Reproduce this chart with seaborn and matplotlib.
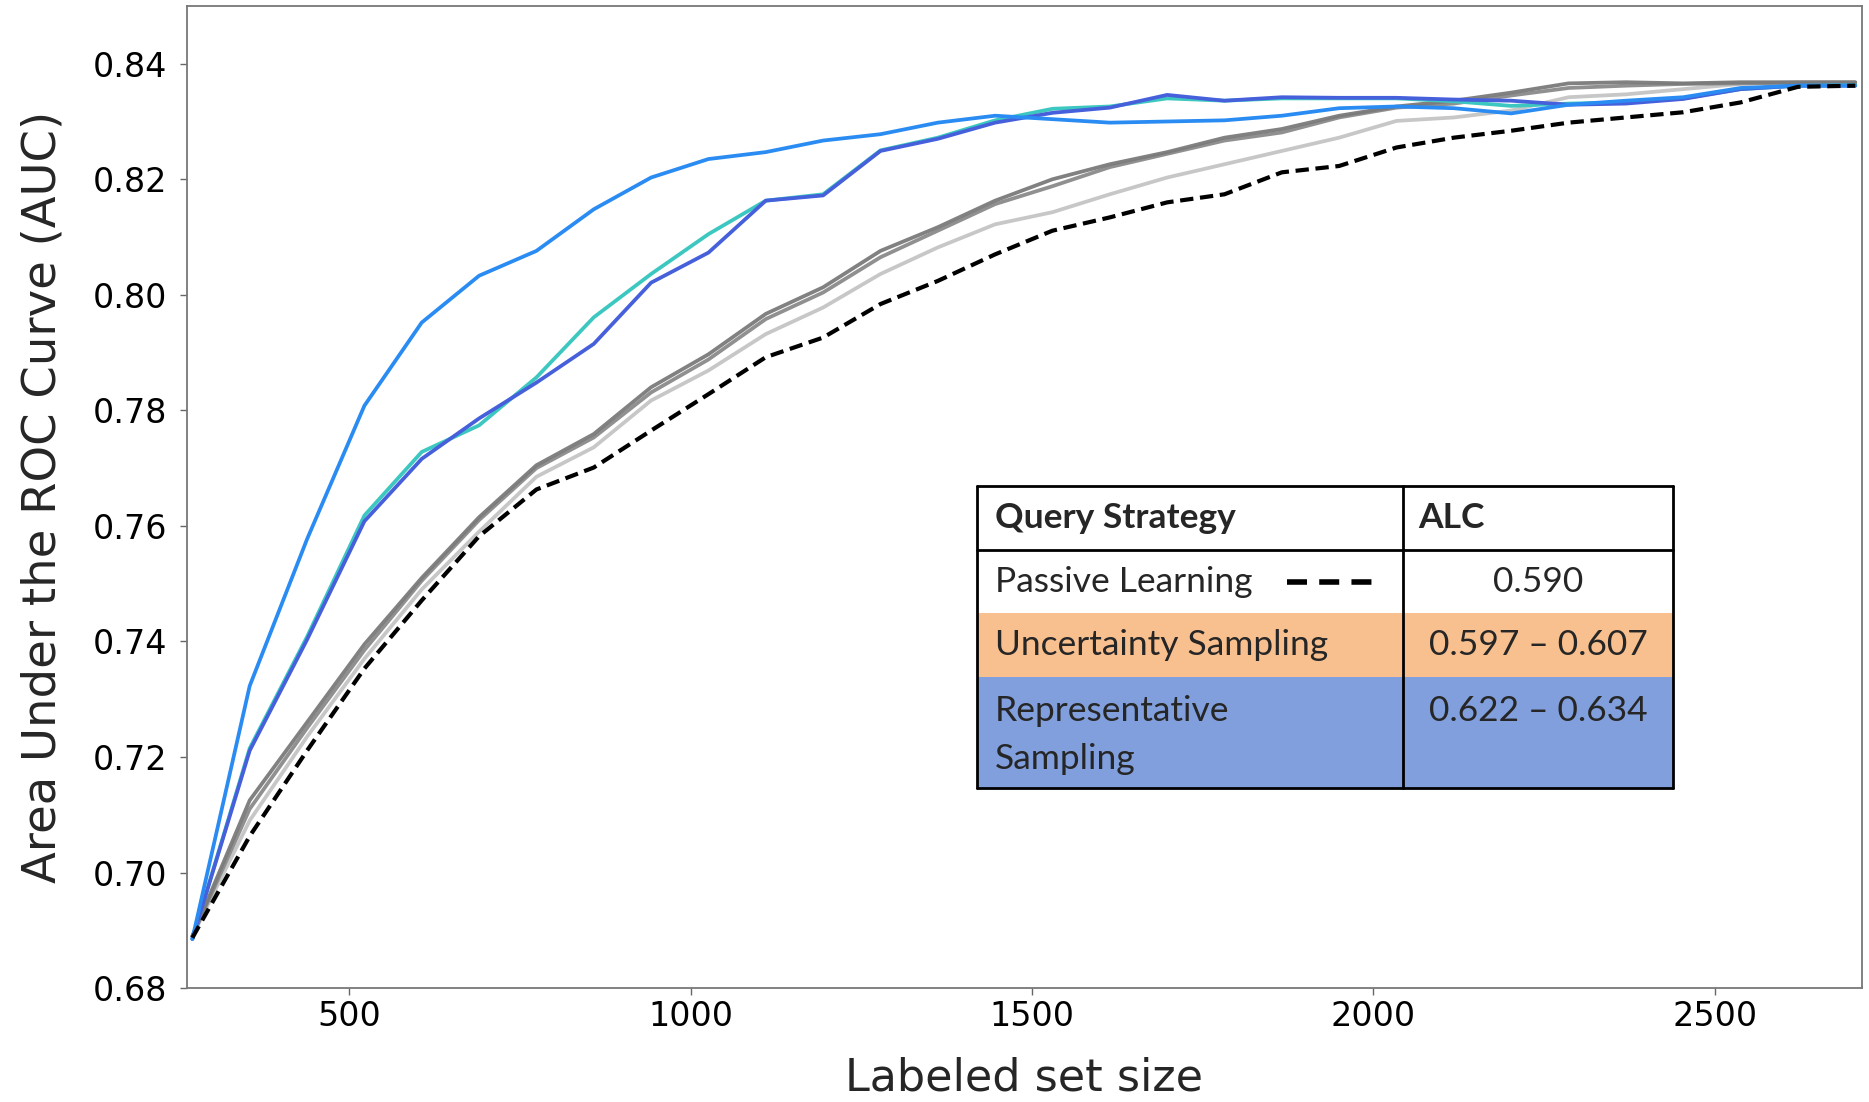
import numpy as np
import pandas as pd
import seaborn as sns
import matplotlib.pyplot as plt
from matplotlib.patches import Rectangle
from matplotlib.lines import Line2D

# labeled set sizes (x)
labeled = [270, 354, 438, 522, 606, 690, 774, 858, 942, 1026,
           1110, 1194, 1278, 1362, 1446, 1530, 1614, 1698, 1782, 1866,
           1950, 2034, 2118, 2202, 2286, 2370, 2454, 2538, 2622, 2706]

# AUC curves
passive = [0.6887, 0.7063, 0.7211, 0.7353, 0.7471, 0.7582, 0.7663, 0.7701, 0.7765, 0.7828,
           0.7892, 0.7926, 0.7984, 0.8024, 0.8070, 0.8111, 0.8134, 0.8160, 0.8174, 0.8212,
           0.8223, 0.8255, 0.8272, 0.8284, 0.8298, 0.8307, 0.8316, 0.8333, 0.8360, 0.8362]

unc_dark1 = [0.6890, 0.7125, 0.7260, 0.7395, 0.7510, 0.7615, 0.7705, 0.7759, 0.7840, 0.7897,
             0.7967, 0.8013, 0.8076, 0.8117, 0.8163, 0.8200, 0.8226, 0.8247, 0.8272, 0.8287,
             0.8310, 0.8326, 0.8336, 0.8350, 0.8366, 0.8368, 0.8366, 0.8368, 0.8368, 0.8368]
unc_dark2 = [0.6890, 0.7110, 0.7250, 0.7385, 0.7505, 0.7610, 0.7700, 0.7753, 0.7831, 0.7888,
             0.7958, 0.8004, 0.8065, 0.8111, 0.8157, 0.8188, 0.8221, 0.8244, 0.8267, 0.8281,
             0.8307, 0.8324, 0.8331, 0.8345, 0.8358, 0.8362, 0.8365, 0.8366, 0.8367, 0.8367]
unc_light = [0.6890, 0.7090, 0.7235, 0.7370, 0.7490, 0.7590, 0.7685, 0.7736, 0.7817, 0.7869,
             0.7932, 0.7978, 0.8036, 0.8082, 0.8122, 0.8143, 0.8174, 0.8203, 0.8226, 0.8249,
             0.8272, 0.8301, 0.8307, 0.8319, 0.8342, 0.8347, 0.8356, 0.8365, 0.8368, 0.8368]

rep_dodger = [0.6885, 0.7323, 0.7577, 0.7808, 0.7952, 0.8033, 0.8076, 0.8148, 0.8203, 0.8235,
              0.8247, 0.8267, 0.8278, 0.8298, 0.8310, 0.8304, 0.8298, 0.8300, 0.8302, 0.8310,
              0.8323, 0.8326, 0.8323, 0.8314, 0.8329, 0.8336, 0.8342, 0.8358, 0.8362, 0.8362]
rep_teal = [0.6885, 0.7215, 0.7408, 0.7618, 0.7728, 0.7774, 0.7857, 0.7961, 0.8036, 0.8105,
            0.8163, 0.8174, 0.8250, 0.8272, 0.8302, 0.8322, 0.8326, 0.8340, 0.8336, 0.8340,
            0.8340, 0.8340, 0.8335, 0.8327, 0.8331, 0.8333, 0.8340, 0.8356, 0.8362, 0.8363]
rep_royal = [0.6885, 0.7211, 0.7403, 0.7608, 0.7716, 0.7786, 0.7848, 0.7915, 0.8021, 0.8073,
             0.8163, 0.8172, 0.8249, 0.8270, 0.8298, 0.8315, 0.8324, 0.8346, 0.8336, 0.8342,
             0.8341, 0.8341, 0.8338, 0.8336, 0.8329, 0.8331, 0.8339, 0.8356, 0.8362, 0.8362]

# table contents
table_rows = ["Passive Learning", "Uncertainty Sampling", "Representative\nSampling"]
table_alc = ["0.590", "0.597 \u2013 0.607", "0.622 \u2013 0.634"]

sns.set_style("ticks")
plt.rcParams['font.family'] = ['DejaVu Sans']

fig = plt.figure(figsize=(18.69, 11.02), dpi=100)
ax = fig.add_axes([0.1, 0.1034, 0.8963, 0.8912])

lw = 2.7
for y, c in [(unc_light, '#c4c4c4'), (unc_dark2, '#8a8a8a'), (unc_dark1, '#7a7a7a')]:
    sns.lineplot(x=labeled, y=y, ax=ax, color=c, lw=lw, alpha=0.95)
for y, c in [(rep_teal, '#3cc8c0'), (rep_royal, '#4660dc'), (rep_dodger, '#2a8cf2')]:
    sns.lineplot(x=labeled, y=y, ax=ax, color=c, lw=lw)
sns.lineplot(x=labeled, y=passive, ax=ax, color='black', lw=3.0, linestyle=(0, (3.2, 1.6)))

ax.set_xlim(262, 2716)
ax.set_ylim(0.68, 0.85)
ax.set_yticks([0.68, 0.70, 0.72, 0.74, 0.76, 0.78, 0.80, 0.82, 0.84])
ax.set_xticks([500, 1000, 1500, 2000, 2500])
ax.tick_params(labelsize=24, colors='#666666', labelcolor='black', length=5, width=1)
ax.tick_params(axis='y', pad=9)
for s in ax.spines.values():
    s.set_color('#777777')
    s.set_linewidth(1.3)
ax.set_xlabel("Labeled set size", fontsize=32, labelpad=17)
ax.set_ylabel("Area Under the ROC Curve (AUC)", fontsize=33.5, labelpad=20)

# table drawn in figure coordinates
W, H = 1869.0, 1102.0
xs = [977 / W, 1403 / W, 1673 / W]
ys = [1 - v / H for v in [486, 550, 613, 677, 788]]
fills = ['white', 'white', '#f9c08f', '#809fdc']
for i in range(4):
    fig.add_artist(Rectangle((xs[0], ys[i + 1]), xs[2] - xs[0], ys[i] - ys[i + 1],
                             transform=fig.transFigure, facecolor=fills[i],
                             edgecolor='none', zorder=5))
tk = dict(transform=fig.transFigure, color='black', lw=2.0, zorder=6)
fig.add_artist(Line2D([xs[0], xs[2]], [ys[0], ys[0]], **tk))
fig.add_artist(Line2D([xs[0], xs[2]], [ys[1], ys[1]], **tk))
fig.add_artist(Line2D([xs[0], xs[2]], [ys[4], ys[4]], **tk))
for xv in xs:
    fig.add_artist(Line2D([xv, xv], [ys[0], ys[4]], **tk))

tfont = dict(family=['Lato', 'DejaVu Sans'], fontsize=25.5, zorder=7)
tx = 995 / W
fig.text(tx, (ys[0] + ys[1]) / 2, "Query Strategy", va='center', ha='left',
         fontweight='bold', **tfont)
fig.text(1418 / W, (ys[0] + ys[1]) / 2, "ALC", va='center', ha='left',
         fontweight='bold', **tfont)
cx = (xs[1] + xs[2]) / 2
for i, (name, val) in enumerate(zip(table_rows, table_alc)):
    top, bot = ys[i + 1], ys[i + 2]
    if "\n" in name:
        first, second = name.split("\n")
        fig.text(tx, 1 - 711 / H, first, va='center', ha='left', **tfont)
        fig.text(tx, 1 - 759 / H, second, va='center', ha='left', **tfont)
        fig.text(cx, 1 - 711 / H, val, va='center', ha='center', **tfont)
    else:
        fig.text(tx, (top + bot) / 2, name, va='center', ha='left', **tfont)
        fig.text(cx, (top + bot) / 2, val, va='center', ha='center', **tfont)

# dashed sample next to "Passive Learning"
yy = (ys[1] + ys[2]) / 2
fig.add_artist(Line2D([1287 / W, 1372 / W], [yy, yy], transform=fig.transFigure,
                      color='black', lw=4, linestyle=(0, (3.6, 2.2)), zorder=7))

fig.savefig("out.png", dpi=100)
